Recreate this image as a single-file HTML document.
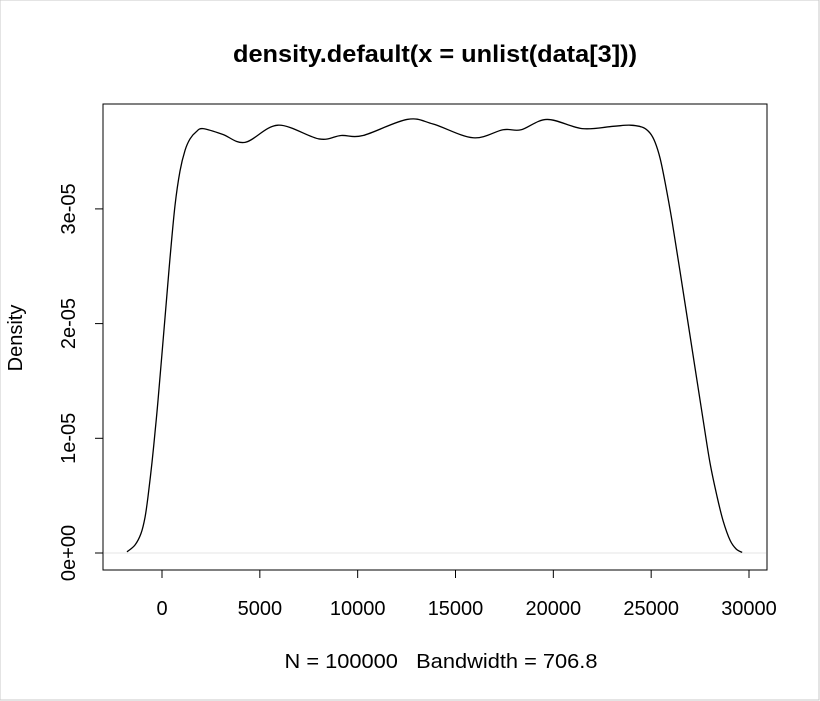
<!DOCTYPE html>
<html><head><meta charset="utf-8"><style>
html,body{margin:0;padding:0;background:#fff;}
svg{display:block;font-family:"Liberation Sans",Arial,sans-serif;}
</style></head><body>
<svg id="chart" width="820" height="701" viewBox="0 0 820 701">
<rect x="0" y="0" width="819" height="700" fill="#fff" stroke="#c8c8c8" stroke-width="1"/>
<text x="435" y="62" text-anchor="middle" font-size="24" font-weight="bold" textLength="404" lengthAdjust="spacingAndGlyphs">density.default(x = unlist(data[3]))</text>
<rect x="103" y="104" width="664" height="466" fill="none" stroke="#000" stroke-width="1"/>
<text transform="translate(22,338) rotate(-90)" text-anchor="middle" font-size="20">Density</text>
<text x="441" y="668" text-anchor="middle" font-size="20" xml:space="preserve" style="white-space:pre" textLength="313" lengthAdjust="spacingAndGlyphs">N = 100000   Bandwidth = 706.8</text>
<g id="xaxis"></g>
<g id="yaxis"></g>
<g id="series"></g>
</svg>
<script>
const xTicks = [0, 5000, 10000, 15000, 20000, 25000, 30000];
const xTickLabels = ["0", "5000", "10000", "15000", "20000", "25000", "30000"];
const yTicks = [0, 1, 2, 3];
const yTickLabels = ["0e+00", "1e-05", "2e-05", "3e-05"];
const xs = [-1789,-1380,-1074,-869,-716,-511,-358,-204,153,409,665,920,1176,1431,1738,2096,3100,4243,5930,8026,9150,10275,12524,13854,15898,17432,18352,19681,21470,23055,23924,24589,24947,25202,25458,25713,26071,26480,26991,27656,28013,28371,28678,29036,29343,29650];
const dens = [0.01,0.07,0.17,0.31,0.49,0.79,1.05,1.33,2.05,2.57,3.03,3.33,3.51,3.61,3.67,3.70,3.65,3.58,3.73,3.61,3.64,3.64,3.78,3.74,3.62,3.69,3.69,3.78,3.70,3.72,3.73,3.71,3.66,3.58,3.44,3.23,2.89,2.45,1.89,1.16,0.78,0.49,0.28,0.11,0.035,0.005];

const NS = "http://www.w3.org/2000/svg";
const sx = v => 162 + v * (749 - 162) / 30000;
const sy = v => 553 - v * 114.7; // v in units of 1e-5

const xa = document.getElementById('xaxis');
const ya = document.getElementById('yaxis');
const ser = document.getElementById('series');

function mk(tag, attrs){const e=document.createElementNS(NS,tag);for(const k in attrs)e.setAttribute(k,attrs[k]);return e;}

let l = mk('line',{x1:sx(xTicks[0]),x2:sx(xTicks[xTicks.length-1]),y1:570,y2:570,stroke:'#000'});


xa.appendChild(l);
xTicks.forEach((t,i)=>{
  const tk = mk('line',{x1:sx(t),x2:sx(t),y1:570,y2:578,stroke:'#000'});
  
  
  xa.appendChild(tk);
  const tx = mk('text',{x:sx(t),y:615,'text-anchor':'middle','font-size':20});
  tx.textContent = xTickLabels[i];
  
  
  xa.appendChild(tx);
});
l = mk('line',{x1:103,x2:103,y1:sy(yTicks[0]),y2:sy(yTicks[yTicks.length-1]),stroke:'#000'});


ya.appendChild(l);
yTicks.forEach((t,i)=>{
  const tk = mk('line',{x1:95,x2:103,y1:sy(t),y2:sy(t),stroke:'#000'});
  
  
  ya.appendChild(tk);
  const tx = mk('text',{transform:`translate(75,${sy(t)}) rotate(-90)`,'text-anchor':'middle','font-size':20});
  tx.textContent = yTickLabels[i];
  
  
  ya.appendChild(tx);
});
const z = mk('line',{x1:104,x2:766,y1:sy(0),y2:sy(0),stroke:'#e6e6e6'});


ser.appendChild(z);

// parametric Catmull-Rom through the data points
const P = xs.map((x,i)=>[sx(x),sy(dens[i])]);
let d = `M${P[0][0]},${P[0][1]}`;
for(let i=0;i<P.length-1;i++){
  const p0=P[Math.max(0,i-1)],p1=P[i],p2=P[i+1],p3=P[Math.min(P.length-1,i+2)];
  const c1=[p1[0]+(p2[0]-p0[0])/6,p1[1]+(p2[1]-p0[1])/6];
  const c2=[p2[0]-(p3[0]-p1[0])/6,p2[1]-(p3[1]-p1[1])/6];
  d+=` C${c1[0]},${c1[1]} ${c2[0]},${c2[1]} ${p2[0]},${p2[1]}`;
}
const path = mk('path',{d:d,fill:'none',stroke:'#000','stroke-width':1.3});


ser.appendChild(path);
</script>
</body></html>
